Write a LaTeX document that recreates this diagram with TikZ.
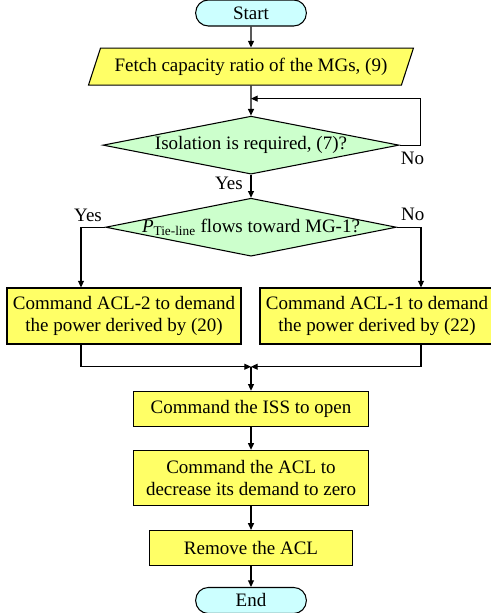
\documentclass[tikz,border=0pt]{standalone}
\usepackage{fontspec}
\setmainfont{Liberation Serif}
\usetikzlibrary{positioning,arrows.meta,shapes.geometric}
\definecolor{fYellow}{RGB}{255,255,102}
\definecolor{fGreen}{RGB}{204,255,204}
\definecolor{fCyan}{RGB}{204,255,255}
\tikzset{
  base/.style={draw=black, line width=0.8pt, align=center, inner sep=2pt,
               font=\fontsize{14.25pt}{16.5pt}\selectfont},
  term/.style={base, rectangle, rounded corners=9.5pt, fill=fCyan,
               minimum width=83pt, minimum height=19.5pt},
  io/.style={base, trapezium, trapezium left angle=64, trapezium right angle=116,
             trapezium stretches=true, fill=fYellow, minimum height=27.75pt},
  proc/.style={base, rectangle, fill=fYellow, minimum height=26.25pt},
  decision/.style={base, diamond, fill=fGreen, inner sep=0pt,
                   minimum width=222pt, minimum height=43.5pt},
  flow/.style={-{Triangle[length=5pt,width=4.5pt]}, draw=black, line width=0.8pt},
  lbl/.style={font=\fontsize{14.25pt}{16.5pt}\selectfont, inner sep=0pt},
}

\begin{document}
\begin{tikzpicture}[x=0.75pt, y=0.75pt]
  \useasboundingbox (0,0) rectangle (490,-613);

  % --- main column : Start -> fetch -> two decisions -----------------------
  \node[term] (start) at (251,-13) {Start};
  \node[io, minimum width=244.5pt, below=15.75pt of start] (fetch) {Fetch capacity ratio of the MGs, (9)};
  \node[decision, below=22.5pt of fetch] (iso) {\makebox[0pt]{Isolation is required, (7)?}};
  \node[decision, minimum width=218pt, below=17.25pt of iso] (tie)
       {\makebox[0pt]{\textit{P}\textsubscript{Tie-line} flows toward MG-1?}};

  % --- the two branches ------------------------------------------------------
  \node[proc, minimum width=175.5pt, minimum height=42pt] (acl2) at (124,-316)
       {Command ACL-2 to demand\\the power derived by (20)};
  \node[proc, minimum width=175.5pt, minimum height=42pt] (acl1) at (377,-316)
       {Command ACL-1 to demand\\the power derived by (22)};

  % --- closing sequence ------------------------------------------------------
  \node[proc, minimum width=176.25pt, below=100.5pt of tie] (iss) {Command the ISS to open};
  \node[proc, minimum width=176.25pt, minimum height=41.25pt, below=17.25pt of iss] (zero)
       {Command the ACL to\\decrease its demand to zero};
  \node[proc, minimum width=152.25pt, below=18pt of zero] (remove) {Remove the ACL};
  \node[term, below=15.75pt of remove] (end) {End};

  \coordinate[below=9.75pt of fetch.south] (loopin);
  \coordinate[above=18pt of iss.north] (merge);

  % --- branch labels -----------------------------------------------------------
  \node[lbl, anchor=north west] (no1) at ([xshift=0.75pt,yshift=-5.25pt]iso.east) {No};
  \node[lbl, anchor=east] (yes1) at ([xshift=-6pt,yshift=-6.4pt]iso.south) {Yes};
  \node[lbl, anchor=south east] (yes2) at ([xshift=-2.25pt,yshift=3.75pt]tie.west) {Yes};
  \node[lbl, anchor=south west] (no2) at ([xshift=3pt,yshift=4.5pt]tie.east) {No};

  % --- connectors --------------------------------------------------------------
  \draw[flow] (start) -- (fetch);
  \draw[flow] (fetch) -- (iso);
  \draw[flow] (iso.east) -- ++(16pt,0) |- (loopin);
  \draw[flow] (iso) -- (tie);
  \draw[flow] (tie.west) -| ([xshift=-32.25pt]acl2.north);
  \draw[flow] (tie.east) -| ([xshift=33pt]acl1.north);
  \draw[flow] ([xshift=-32.25pt]acl2.south) |- (merge);
  \draw[flow] ([xshift=33pt]acl1.south) |- (merge);
  \draw[flow] (merge) -- (iss);
  \draw[flow] (iss) -- (zero);
  \draw[flow] (zero) -- (remove);
  \draw[flow] (remove) -- (end);
\end{tikzpicture}
\end{document}
